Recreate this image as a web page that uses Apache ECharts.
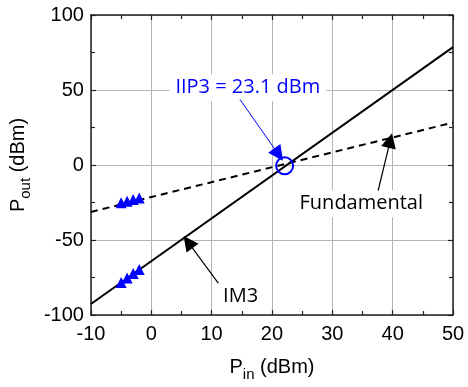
<!DOCTYPE html>
<html>
<head>
<meta charset="utf-8">
<script src="https://cdn.jsdelivr.net/npm/echarts@6/dist/echarts.min.js"></script>
<style>html,body{margin:0;padding:0;background:#fff}#c{width:468px;height:387px}</style>
</head>
<body>
<div id="c"></div>
<script>
// Data
var xTicks = [-10, 0, 10, 20, 30, 40, 50];
var yTicks = [-100, -50, 0, 50, 100];
var fundamentalLine = [[-10, -31.3], [50, 28.3]];
var im3Line = [[-10, -92.7], [50, 78.6]];
var fundamentalMeas = [[-5, -25.2], [-4, -24.2], [-3, -23], [-2, -22]];
var im3Meas = [[-5, -78.3], [-4, -75.3], [-3, -72.4], [-2, -69.6]];
var iip3Point = [[22.1, -0.5]];
var annotationTexts = [
  {name: 'IIP3 = 23.1 dBm', value: [16.0, 51.5], color: '#0000ff'},
  {name: 'Fundamental', value: [34.8, -25.8], color: '#000000'},
  {name: 'IM3', value: [14.8, -87.4], color: '#000000'}
];
var arrowIIP3 = [[14.7, 43.7], [21.1, 7.0]];
var arrowFund = [[37.6, -17.0], [39.6, 16.3]];
var arrowIM3 = [[11.1, -78.8], [6.1, -51.4]];

var chart = echarts.init(document.getElementById('c'), null, {renderer: 'canvas'});
var tickFont = {fontFamily: 'Liberation Sans, Arial, sans-serif', fontSize: 20, color: '#000'};
var axisLine = {show: true, onZero: false, lineStyle: {color: '#222', width: 1.5}};
var splitLine = {show: true, lineStyle: {color: '#b4b4b4', width: 1}};

function axisCommon(min, max, interval) {
  return {
    type: 'value', min: min, max: max, interval: interval,
    axisLine: axisLine,
    axisTick: {show: true, inside: true, length: 5, lineStyle: {color: '#222', width: 1.2}},
    minorTick: {show: true, splitNumber: 2, length: 4, lineStyle: {color: '#222', width: 1.2}},
  };
}

var richName = {
  p: {fontSize: 20, fontFamily: 'Liberation Sans, Arial, sans-serif', color: '#000', verticalAlign: 'top', lineHeight: 22},
  s: {fontSize: 15, fontFamily: 'Liberation Sans, Arial, sans-serif', color: '#000', verticalAlign: 'top', lineHeight: 15, padding: [10, 0, 0, 0]}
};

var xMain = Object.assign(axisCommon(xTicks[0], xTicks[xTicks.length - 1], xTicks[1] - xTicks[0]), {
  position: 'bottom',
  axisLabel: Object.assign({margin: 9}, tickFont),
  splitLine: splitLine,
  name: '{p|P}{s|in}{p| (dBm)}',
  nameLocation: 'middle',
  nameGap: 42,
  nameTextStyle: {fontFamily: 'Liberation Sans, Arial, sans-serif', color: '#000', rich: richName}
});
var xTop = Object.assign(axisCommon(xTicks[0], xTicks[xTicks.length - 1], xTicks[1] - xTicks[0]), {
  position: 'top', axisLabel: {show: false}, splitLine: {show: false}
});
var yMain = Object.assign(axisCommon(yTicks[0], yTicks[yTicks.length - 1], yTicks[1] - yTicks[0]), {
  position: 'left',
  axisLabel: Object.assign({margin: 7}, tickFont),
  splitLine: splitLine,
  name: '{p|P}{s|out}{p| (dBm)}',
  nameLocation: 'middle',
  nameGap: 52,
  nameTextStyle: {fontFamily: 'Liberation Sans, Arial, sans-serif', color: '#000', rich: richName}
});
var yRight = Object.assign(axisCommon(yTicks[0], yTicks[yTicks.length - 1], yTicks[1] - yTicks[0]), {
  position: 'right', axisLabel: {show: false}, splitLine: {show: false}
});

function arrowSeries(coords, color, width) {
  return {
    type: 'lines', coordinateSystem: 'cartesian2d', xAxisIndex: 0, yAxisIndex: 0,
    symbol: ['none', 'triangle'], symbolSize: [0, 15],
    lineStyle: {color: color, width: width, opacity: 1},
    itemStyle: {color: color},
    silent: true, z: 8,
    data: [{coords: coords}]
  };
}

chart.setOption({
  animation: false,
  backgroundColor: '#fff',
  grid: {left: 86, right: 15, top: 15, bottom: 70, containLabel: false},
  xAxis: [xMain, xTop],
  yAxis: [yMain, yRight],
  series: [
    {type: 'line', name: 'Fundamental', data: fundamentalLine, showSymbol: false, symbol: 'none',
      lineStyle: {color: '#000', width: 2, type: [7, 5]}, z: 3},
    {type: 'line', name: 'IM3', data: im3Line, showSymbol: false, symbol: 'none',
      lineStyle: {color: '#000', width: 2}, z: 3},
    {type: 'scatter', data: fundamentalMeas, symbol: 'triangle', symbolSize: [11, 11],
      itemStyle: {color: '#0000ff', opacity: 1}, z: 4},
    {type: 'scatter', data: im3Meas, symbol: 'triangle', symbolSize: [11, 11],
      itemStyle: {color: '#0000ff', opacity: 1}, z: 4},
    {type: 'scatter', data: iip3Point, symbol: 'circle', symbolSize: 17,
      itemStyle: {color: 'rgba(0,0,0,0)', borderColor: '#0000ff', borderWidth: 2, opacity: 1}, z: 5},
    {type: 'scatter', symbol: 'circle', symbolSize: 1, silent: true, z: 2,
      itemStyle: {color: 'rgba(255,255,255,0)', opacity: 1},
      data: annotationTexts.map(function (a) {
        return {name: a.name, value: a.value,
          label: {show: true, position: 'inside', formatter: a.name, color: a.color, opacity: 1,
            backgroundColor: '#fff', padding: [5, 6, 2, 6],
            textBorderWidth: 0, fontFamily: 'Open Sans, Noto Sans, sans-serif', fontSize: 20}};
      })
    },
    arrowSeries(arrowIIP3, '#0000ff', 1),
    arrowSeries(arrowFund, '#000000', 1.2),
    arrowSeries(arrowIM3, '#000000', 1.2)
  ]
});
</script>
</body>
</html>
